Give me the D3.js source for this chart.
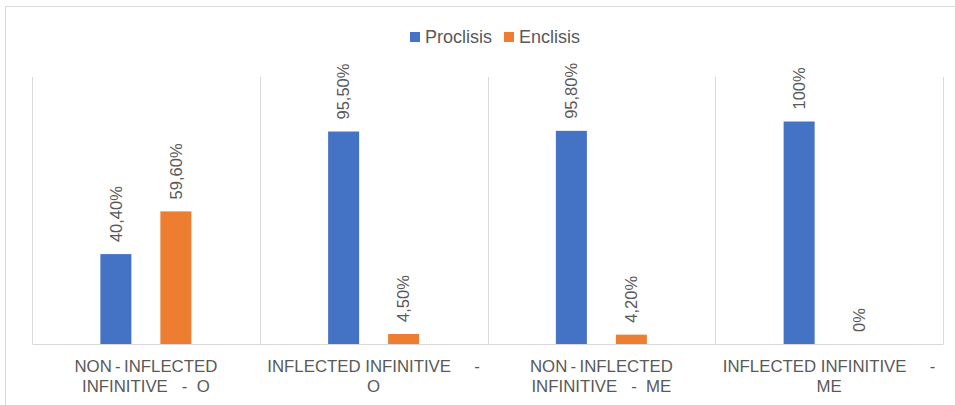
<!DOCTYPE html>
<html>
<head>
<meta charset="utf-8">
<script src="https://cdn.jsdelivr.net/npm/d3@7"></script>
<style>
  body { margin: 0; background: #fff; }
  text { font-family: "Liberation Sans", Arial, sans-serif; fill: #595959; }
</style>
</head>
<body>
<svg id="chart"></svg>
<script>
// chart data
const categories = ['c0', 'c1', 'c2', 'c3'];
const categoryLines = [
  ['NON\u2009-\u2009INFLECTED', 'INFINITIVE\u00a0\u00a0\u00a0-\u00a0\u00a0O'],
  ['INFLECTED INFINITIVE\u00a0\u00a0\u00a0\u00a0\u00a0-', 'O'],
  ['NON\u2009-\u2009INFLECTED', 'INFINITIVE\u00a0\u00a0\u00a0-\u00a0\u00a0ME'],
  ['INFLECTED INFINITIVE\u00a0\u00a0\u00a0\u00a0\u00a0-', 'ME']
];
const series = ['Proclisis', 'Enclisis'];
const proclisis = [40.4, 95.5, 95.8, 100];
const enclisis = [59.6, 4.5, 4.2, 0];
const labelsProclisis = ['40,40%', '95,50%', '95,80%', '100%'];
const labelsEnclisis = ['59,60%', '4,50%', '4,20%', '0%'];
const colors = ['#4472C4', '#ED7D31'];

const W = 955, H = 405;
const margin = { top: 77, right: 12, bottom: 61, left: 32 };
const width = W - margin.left - margin.right;
const height = H - margin.top - margin.bottom;

const svg = d3.select('#chart').attr('width', W).attr('height', H);

// outer chart frame (cut off on right and bottom)
svg.append('rect')
  .attr('x', 5.5).attr('y', 6.5)
  .attr('width', 980).attr('height', 430)
  .attr('fill', 'none').attr('stroke', '#d9d9d9');

const g = svg.append('g').attr('transform', `translate(${margin.left},${margin.top})`);

const x = d3.scaleBand().domain(categories).range([0, width]).padding(0);
const bw = x.bandwidth();
const x1 = d3.scaleBand().domain(series)
  .range([bw / 2 - 45.5, bw / 2 + 45.5]).paddingInner(0.483);
const y = d3.scaleLinear().domain([0, 120]).range([height, 0]);

// category separators
const seps = categories.map(c => x(c)).concat([width]);
g.selectAll('.sep')
  .data(seps)
  .enter().append('line')
  .attr('class', 'sep')
  .attr('x1', d => Math.round(d) + 0.5).attr('x2', d => Math.round(d) + 0.5)
  .attr('y1', 0).attr('y2', height)
  .attr('stroke', '#d9d9d9');

const rows = categories.map((c, i) => ({
  cat: c,
  vals: [
    { s: series[0], v: proclisis[i], label: labelsProclisis[i] },
    { s: series[1], v: enclisis[i], label: labelsEnclisis[i] }
  ]
}));

const groups = g.selectAll('.grp')
  .data(rows)
  .enter().append('g')
  .attr('class', 'grp')
  .attr('transform', d => `translate(${x(d.cat)},0)`);

groups.selectAll('rect')
  .data(d => d.vals)
  .enter().append('rect')
  .attr('x', d => x1(d.s))
  .attr('width', x1.bandwidth())
  .attr('y', d => y(d.v))
  .attr('height', d => height - y(d.v))
  .attr('fill', (d, i) => colors[i]);

groups.selectAll('.lbl')
  .data(d => d.vals)
  .enter().append('text')
  .attr('class', 'lbl')
  .attr('transform', d => `translate(${x1(d.s) + x1.bandwidth() / 2},${y(d.v) - 12}) rotate(-90)`)
  .attr('dy', '0.35em')
  .attr('text-anchor', 'start')
  .style('font-size', '16.5px')
  .text(d => d.label);

// x axis
const axis = g.append('g')
  .attr('transform', `translate(0,${height})`)
  .call(d3.axisBottom(x).tickSize(0).tickFormat(''));
axis.select('.domain').attr('stroke', '#d9d9d9');

categories.forEach((c, i) => {
  const t = g.append('text')
    .attr('x', x(c) + bw / 2)
    .attr('y', height + 28)
    .attr('text-anchor', 'middle')
    .style('font-size', '16.8px');
  categoryLines[i].forEach((line, j) => {
    t.append('tspan')
      .attr('x', x(c) + bw / 2)
      .attr('dy', j === 0 ? 0 : 20)
      .text(line);
  });
});

// legend
const legend = svg.append('g').attr('transform', 'translate(410,32)');
const items = legend.selectAll('g')
  .data(series)
  .enter().append('g')
  .attr('transform', (d, i) => `translate(${i === 0 ? 0 : 94},0)`);
items.append('rect')
  .attr('width', 10).attr('height', 10)
  .attr('fill', (d, i) => colors[i]);
items.append('text')
  .attr('x', 15).attr('y', 11)
  .style('font-size', '18px')
  .text(d => d);
</script>
</body>
</html>
